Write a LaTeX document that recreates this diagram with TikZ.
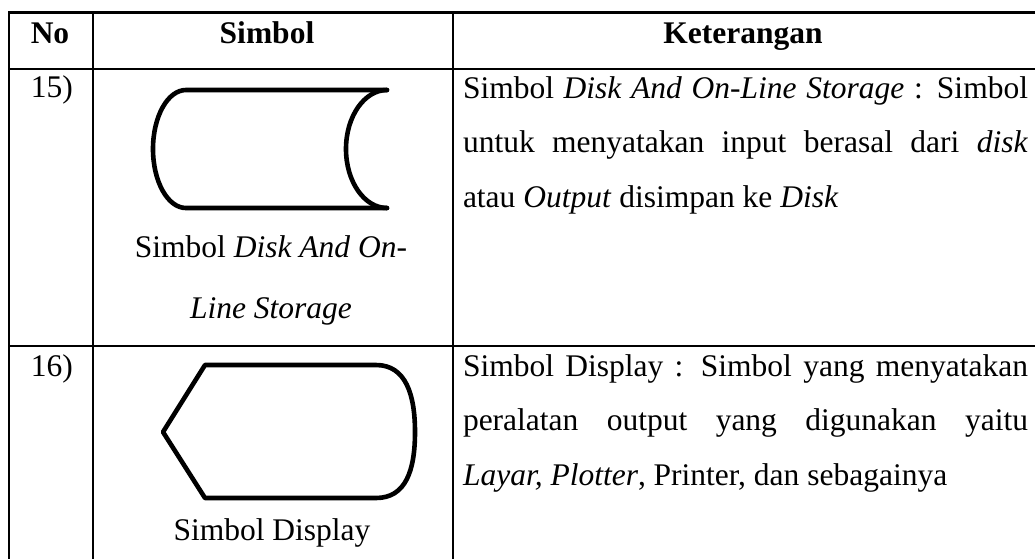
\documentclass[tikz,border=0pt]{standalone}
\usepackage{fontspec}
\setmainfont{Liberation Serif}
\begin{document}
\begin{tikzpicture}
  [x=0.5pt,y=-0.5pt,
    every node/.style={inner sep=0pt,outer sep=0pt,font=\fontsize{15.75}{27.25}\selectfont},
    head/.style={anchor=base,font=\fontsize{15.75}{27.25}\selectfont\bfseries},
    rule/.style={line width=1.1pt},
    symline/.style={line width=2.3pt,line cap=round,line join=round},
    ket/.style={anchor=base west,text width=282.5pt,align=justify},
]
  \useasboundingbox (0,0) rectangle (1035,559);
  \draw[rule] (1035,12.5) -- (9,12.5) -- (9,559);
  \foreach \y in {69,346}
    \draw[rule] (9,\y) -- (1035,\y);
  \foreach \x in {93,453}
    \draw[rule] (\x,12.5) -- (\x,559);

  \node[head] (hNo) at (50,43) {No};
  \node[head] (hSimbol) at (267,43) {Simbol};
  \node[head] (hKet) at (743,43) {Keterangan};

  \node[anchor=base west] (no15) at (31,97) {15)};
  \draw[symline] (387,90) -- (186,90)
    arc[start angle=270,end angle=90,x radius=33,y radius=59] -- (387,208);
  \draw[symline] (387,90) arc[start angle=270,end angle=90,x radius=41,y radius=59];
  \node[anchor=base,align=center] (capDisk) at (271,318)
    {Simbol \textit{Disk And On-}\\[3.25pt] \textit{Line Storage}};
  \node[ket] (ket15) at (463,98) {Simbol \textit{Disk And On-Line Storage} : Simbol\linebreak
    untuk menyatakan input berasal dari \textit{disk}\linebreak
    atau \textit{Output} disimpan ke \textit{Disk}};

  \node[anchor=base west] (no16) at (31,376) {16)};
  \draw[symline] (163,432) -- (205,365) -- (376,365)
    .. controls (406,365) and (415,395) .. (415,432)
    .. controls (415,470) and (406,498) .. (376,498) -- (205,498) -- cycle;
  \node[anchor=base] (capDisplay) at (272,540) {Simbol Display};
  \node[ket] (ket16) at (463,376) {Simbol Display : Simbol yang menyatakan\linebreak
    peralatan output yang digunakan yaitu\linebreak
    \textit{Layar, Plotter}, Printer, dan sebagainya};
\end{tikzpicture}
\end{document}
